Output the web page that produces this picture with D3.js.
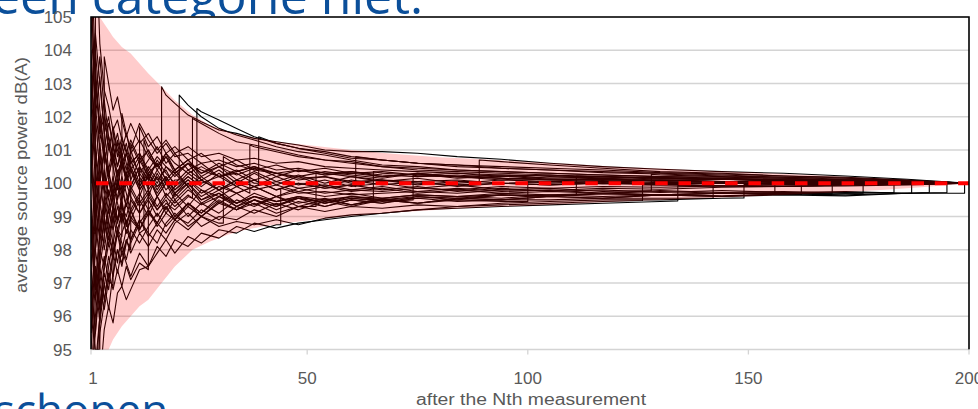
<!DOCTYPE html>
<html>
<head>
<meta charset="utf-8">
<script src="https://cdn.jsdelivr.net/npm/d3@7"></script>
<style>
  body { margin: 0; background: #fff; }
  svg { display: block; }
  text { font-family: "Liberation Sans", Arial, sans-serif; }
</style>
</head>
<body>
<div id="chart"></div>
<script>
var grid = [1,2,3,4,5,6,7,8,9,10,12,14,16,18,20,23,26,30,34,38,43,48,54,60,67,75,84,94,105,117,130,144,158,172,186,200];

// running averages (dB(A)), one row per random ordering; null = covered by the jump point
var runs = [
  [98.5,null,104.2,102.8,102.3,101.6,101.9,101.3,101.0,100.6,100.9,100.4,100.8,100.5,100.3,100.6,100.4,100.2,100.35,100.5,100.3,100.2,100.35,100.25,100.15,100.3,100.2,100.1,100.2,100.15,100.05,100.12,100.08,100.04,100.06,100],
  [103.5,101.0,99.2,100.3,99.5,98.8,99.6,100.2,99.7,99.1,99.6,100.3,99.9,102.65,102.4,102.05,101.85,101.6,101.5,101.35,101.25,101.15,101.0,100.95,100.95,100.9,100.8,100.72,100.6,100.5,100.42,100.35,100.3,100.22,100.12,100],
  [96.0,98.5,100.8,99.7,101.2,100.5,99.8,100.9,100.4,101.0,100.2,99.6,100.3,99.8,100.1,102.35,102.0,101.65,101.45,101.3,101.1,100.95,100.85,100.7,100.55,100.5,100.4,100.35,100.3,100.25,100.2,100.18,100.15,100.1,100.06,100],
  [94.0,96.5,98.0,97.5,98.6,99.3,98.9,99.6,100.3,99.9,100.5,99.8,100.2,99.6,99.9,100.2,102.15,101.9,101.65,101.4,101.2,101.05,100.9,100.75,100.7,100.6,100.55,100.45,100.4,100.35,100.3,100.25,100.18,100.15,100.08,100],
  [100.5,102.3,101.0,99.8,100.4,99.6,100.0,99.3,99.0,99.5,99.1,99.5,99.0,99.4,99.2,99.6,101.8,101.5,101.25,101.15,101.0,100.85,100.7,100.65,100.5,100.4,100.35,100.3,100.25,100.2,100.15,100.12,100.1,100.08,100.05,100],
  [92.0,94.5,96.0,97.3,96.8,97.9,98.6,98.2,97.7,98.3,98.9,98.5,98.2,98.8,99.1,98.7,99.0,98.8,100.55,100.4,100.3,100.15,100.2,100.05,100.1,100.0,99.95,100.0,100.05,99.98,100.0,100.02,99.98,100.0,100.0,100],
  [101.5,99.0,100.2,101.0,100.1,99.5,99.9,100.6,100.9,100.4,99.8,100.2,99.6,100.0,99.7,100.1,99.8,99.6,99.9,101.1,100.95,100.8,100.7,100.6,100.5,100.45,100.4,100.35,100.3,100.25,100.2,100.15,100.12,100.1,100.05,100],
  [97.0,95.5,97.8,99.0,98.3,99.2,100.1,99.7,100.3,100.8,100.3,100.7,101.1,100.6,100.9,100.4,100.6,100.2,100.3,100.0,101.2,101.05,100.95,100.8,100.7,100.6,100.55,100.5,100.45,100.4,100.32,100.28,100.22,100.18,100.1,100],
  [99.0,97.2,95.8,96.9,97.8,97.2,98.0,97.6,98.3,97.9,98.5,98.1,98.6,98.3,98.8,99.1,98.7,99.0,98.9,99.2,99.0,99.3,100.3,100.2,100.1,100.05,100.1,100.0,99.95,100.0,99.95,100.0,99.98,100.0,99.98,100],
  [105.5,103.0,101.5,102.0,101.1,100.6,101.3,100.8,100.2,100.7,100.0,100.5,100.1,100.4,99.9,100.3,100.0,100.2,99.9,100.1,99.8,100.0,99.85,99.95,100.7,100.6,100.5,100.45,100.4,100.32,100.28,100.22,100.18,100.12,100.08,100],
  [94.5,93.0,95.5,96.4,97.5,98.3,97.6,98.5,98.9,98.2,98.8,99.2,98.7,99.1,98.9,99.3,99.0,99.4,99.2,99.5,99.3,99.6,99.4,99.55,99.45,100.22,100.2,100.15,100.1,100.05,100.1,100.05,100.02,100.0,100.02,100],
  [102.0,104.0,102.2,101.0,101.8,101.2,100.5,101.0,101.5,100.9,101.3,100.8,100.5,100.9,100.6,100.3,100.5,100.2,100.4,100.1,100.3,100.1,100.2,100.0,100.1,99.95,100.05,100.65,100.55,100.45,100.35,100.3,100.22,100.16,100.08,100],
  [99.5,96.8,98.5,99.6,98.8,98.2,98.9,99.4,98.7,99.2,98.6,99.1,98.8,99.3,98.9,99.4,99.1,99.6,99.3,99.5,99.2,99.45,99.3,99.5,99.4,99.6,99.5,99.65,99.6,100.2,100.15,100.12,100.08,100.05,100.03,100],
  [93.5,95.0,94.0,95.6,96.3,95.8,96.7,96.9,96.5,96.8,97.4,97.5,97.9,98.3,97.9,98.4,98.2,98.6,98.5,98.8,98.65,98.8,98.9,99.0,99.1,99.2,99.3,99.35,99.4,99.45,99.95,99.92,99.95,99.96,99.98,100],
  [103.0,100.5,99.0,98.0,98.9,99.7,100.4,99.8,99.3,99.9,100.5,100.1,100.7,100.3,100.0,100.4,100.1,99.8,100.1,99.9,100.2,99.95,100.1,99.9,100.0,99.85,99.95,99.8,99.85,99.75,100.25,100.2,100.15,100.1,100.05,100],
  [95.5,97.5,96.3,97.4,98.2,97.7,98.5,98.0,98.6,98.3,98.9,98.4,98.8,98.5,98.9,98.6,99.0,98.7,98.85,98.75,98.9,98.75,98.95,99.05,99.1,99.2,99.25,99.3,99.35,99.4,99.45,99.92,99.9,99.95,99.97,100],
  [98.0,100.5,102.0,100.9,100.2,100.8,100.1,99.5,100.0,99.6,99.1,99.6,99.2,99.5,99.0,99.4,99.1,99.5,99.2,99.4,99.1,99.3,99.15,99.3,99.25,99.35,99.3,99.4,99.45,99.5,99.5,99.55,99.95,99.97,99.98,100],
  [107.0,103.5,101.5,102.5,101.4,100.7,101.2,100.6,100.1,100.5,99.9,100.3,99.8,100.2,99.7,100.0,99.6,99.9,99.7,99.9,99.6,99.75,99.6,99.7,99.55,99.65,99.6,99.7,99.65,99.7,99.65,99.7,100.05,100.02,100.0,100],
  [96.5,98.0,99.5,98.5,99.3,100.0,99.4,98.9,99.5,99.9,99.4,99.8,99.3,99.7,99.4,99.8,99.5,99.7,99.4,99.6,99.45,99.55,99.45,99.6,99.5,99.6,99.55,99.65,99.6,99.7,99.65,99.7,99.68,100.04,100.02,100],
  [104.0,101.0,100.0,101.0,100.3,99.7,100.2,100.7,100.2,99.8,100.3,99.9,100.4,100.0,100.3,99.9,100.1,99.8,100.0,99.8,99.95,99.75,99.9,99.75,99.85,99.7,99.8,99.7,99.75,99.7,99.75,99.7,99.72,99.7,100.02,100],
  [91.0,94.0,96.0,97.0,96.2,97.3,98.0,97.5,98.2,98.6,98.2,98.7,99.1,98.7,99.0,98.8,99.2,98.9,99.3,99.1,99.4,99.2,99.45,99.3,99.5,99.4,99.55,99.5,99.6,99.55,99.65,99.6,99.68,99.65,99.7,100],
  [100.0,102.5,103.8,102.2,101.0,101.7,101.0,100.4,100.9,100.4,100.8,100.2,100.6,100.1,99.8,100.2,99.9,100.3,99.9,100.1,99.8,100.0,99.85,99.95,99.8,99.9,99.75,99.85,99.75,99.8,99.72,99.78,99.72,99.75,99.7,100],
  [97.5,99.5,98.2,99.3,100.1,99.4,98.8,99.3,98.8,99.2,99.7,99.2,99.6,99.1,99.5,99.0,99.4,99.1,99.5,99.3,99.6,99.4,99.55,99.35,99.5,99.4,99.55,99.5,99.6,99.55,99.65,99.6,99.65,99.62,99.7,100],
  [99.0,97.0,98.5,null,103.0,102.2,102.6,101.9,101.4,101.8,101.2,101.5,101.0,101.3,100.9,101.1,100.8,100.9,100.7,100.75,100.6,100.65,100.5,100.45,100.4,100.35,100.3,100.25,100.22,100.2,100.15,100.12,100.1,100.08,100.05,100],
  [95.0,97.0,96.2,97.6,98.4,97.9,98.6,null,101.5,101.0,101.8,101.3,100.9,101.2,100.8,100.9,100.6,100.7,100.5,100.6,100.4,100.45,100.3,100.35,100.25,100.2,100.25,100.15,100.1,100.12,100.08,100.05,100.06,100.03,100.02,100],
  [106.5,102.0,100.3,99.0,99.8,99.2,98.6,99.1,98.5,98.9,null,101.1,101.4,100.9,101.1,100.7,100.9,100.5,100.7,100.4,100.55,100.35,100.45,100.3,100.35,100.25,100.3,100.2,100.25,100.15,100.18,100.12,100.1,100.06,100.04,100],
  [93.0,96.0,97.5,96.5,97.3,96.8,97.4,96.9,97.5,97.1,97.6,null,99.9,100.2,99.8,100.1,99.7,100.0,99.7,99.9,99.6,99.85,99.7,99.8,99.75,99.85,99.8,99.9,99.85,99.9,99.88,99.92,99.9,99.95,99.97,100],
  [101.0,98.0,97.0,97.8,97.1,97.9,97.3,98.0,97.6,97.2,97.9,97.5,98.1,97.8,98.3,98.1,98.5,98.35,98.7,98.55,98.75,99.7,99.75,99.65,99.7,99.75,99.7,99.8,99.78,99.85,99.82,99.88,99.9,99.92,99.95,100],
  [100.8,99.0,97.5,98.4,99.2,98.6,99.3,98.8,99.4,98.9,99.5,99.0,99.6,99.2,99.7,99.3,99.8,99.4,99.7,99.35,99.6,99.3,99.5,99.35,99.55,99.4,99.5,99.45,100.0,100.05,99.98,100.02,99.98,100.0,99.98,100],
  [102.5,104.5,103.0,101.6,100.4,101.1,100.5,101.2,100.6,100.1,100.7,100.2,99.7,100.1,99.6,100.0,99.5,99.8,99.4,99.7,99.45,99.6,99.4,99.55,100.3,100.25,100.2,100.15,100.12,100.1,100.08,100.05,100.04,100.02,100.02,100],
  [96.5,95.0,null,101.0,100.2,100.9,100.3,100.7,100.1,100.5,99.9,100.4,100.0,100.5,100.2,100.6,100.3,100.5,100.25,100.45,100.3,100.4,100.25,100.35,100.2,100.3,100.2,100.25,100.15,100.2,100.12,100.15,100.1,100.08,100.04,100],
  [94.0,95.5,97.0,96.2,97.1,null,100.8,101.4,100.9,101.3,100.7,101.0,100.5,100.8,100.4,100.7,100.3,100.6,100.35,100.5,100.2,100.4,100.25,100.3,100.2,100.28,100.15,100.22,100.12,100.15,100.1,100.12,100.06,100.05,100.03,100],
  [102.5,100.0,98.5,99.4,98.6,97.9,98.5,97.8,98.3,null,100.6,101.0,100.5,100.9,100.4,100.7,100.2,100.5,100.1,100.35,100.05,100.25,100.0,100.2,100.05,100.15,100.0,100.1,100.05,100.08,100.02,100.05,100.02,100.03,100.0,100],
  [97.0,99.5,101.2,100.0,99.1,99.7,98.9,99.5,98.7,99.2,98.5,100.9,100.4,100.8,100.3,100.6,100.1,100.4,100.0,100.3,99.95,100.2,99.9,100.1,99.95,100.05,99.9,100.0,99.95,100.02,99.97,100.0,99.98,100.0,100.0,100],
  [101.0,103.0,101.8,100.6,101.4,100.8,100.2,100.7,100.0,100.4,99.8,100.2,99.6,100.0,99.5,99.9,99.4,99.7,99.3,99.6,99.35,99.55,99.3,99.5,99.4,99.55,99.45,99.5,99.5,99.55,99.55,100.0,99.98,100.0,99.98,100],
  [99.0,96.5,97.8,98.9,98.1,99.0,98.4,99.1,98.5,99.0,98.6,99.2,98.8,99.3,98.9,99.4,99.0,99.45,99.2,99.5,99.3,99.55,99.4,99.6,99.5,99.55,99.6,99.55,99.65,99.6,99.65,99.62,99.68,100.02,100.0,100],
  [105.0,102.0,103.2,101.5,102.0,101.0,101.5,100.8,101.2,100.6,100.9,100.3,100.6,100.1,100.4,99.9,100.2,99.8,100.1,99.9,100.05,99.85,99.95,99.8,99.9,99.75,99.85,99.75,99.8,99.7,99.78,99.72,99.75,99.7,100.0,100],
  [95.5,98.0,99.4,100.4,99.6,100.2,99.5,100.0,99.3,99.8,99.3,99.7,99.2,99.6,99.3,99.65,99.35,99.6,99.4,99.6,99.45,99.6,99.5,99.6,99.55,99.65,99.6,99.65,99.62,99.68,99.65,99.7,99.68,99.72,99.7,100]
];

// the loud measurement: [position N, average before, average after]
var jumps = [
  [2,98.5,108],[17,100.0,102.9],[21,100.1,102.65],[25,100.0,102.25],[24,99.55,101.95],
  [31,98.8,100.8],[37,99.7,101.15],[39,100.0,101.4],[52,99.3,100.35],[61,99.9,100.8],
  [74,99.5,100.25],[89,100.05,100.7],[111,99.65,100.22],[126,99.48,99.96],[128,99.78,100.27],
  [134,99.47,99.93],[149,99.56,99.96],[156,99.68,100.06],[169,99.7,100.05],[183,99.72,100.03],
  [187,99.7,100.0],[195,99.72,99.99],[199,99.7,99.98],[4,98.2,103.8],[8,98.4,102.1],
  [12,98.6,101.7],[14,97.4,100.3],[44,98.75,99.85],[100,99.45,100.05],[65,99.5,100.35],
  [3,95.0,101.5],[6,96.9,101.6],[10,98.0,101.2],[13,98.6,101.3],
  [142,99.55,100.0],[162,99.66,100.05],[176,99.7,100.02],[191,99.72,100.0]
];

// shaded spread band
var bandN     = [1,2,3,4,5,6,8,10,12,14,17,20,24,28,32,36,40,45,50,60,70,80,90,100,110,120,130,140,150,160,170,180,190,200];
var bandUpper = [108,106.2,105.0,104.8,104.6,104.4,104.1,103.9,103.6,103.3,102.9,102.5,102.05,101.75,101.55,101.42,101.32,101.22,101.15,101.0,100.88,100.78,100.72,100.65,100.58,100.5,100.44,100.38,100.33,100.27,100.21,100.15,100.08,100.0];
var bandLower = [92,93.2,94.0,94.6,95.0,95.3,95.7,96.0,96.3,96.5,97.0,97.5,98.0,98.25,98.45,98.6,98.7,98.8,98.88,99.02,99.12,99.2,99.28,99.32,99.38,99.44,99.5,99.55,99.6,99.66,99.72,99.8,99.89,100.0];

var targetLevel = 100;
var xTicks = [1,50,100,150,200];
var yTicks = [95,96,97,98,99,100,101,102,103,104,105];

var W = 978, H = 409;
var margin = {top: 17, right: 9, bottom: 59.5, left: 91};

var svg = d3.select('#chart').append('svg')
    .attr('width', W)
    .attr('height', H);

var x = d3.scaleLinear().domain([1,200]).range([margin.left, W - margin.right]);
var y = d3.scaleLinear().domain([95,105]).range([H - margin.bottom, margin.top]);

svg.append('defs').append('clipPath').attr('id','plotClip')
    .append('rect')
    .attr('x', margin.left).attr('y', margin.top)
    .attr('width', x(200) - x(1)).attr('height', y(95) - y(105));

// slide text around the chart
svg.append('text')
    .attr('x', -8).attr('y', 14)
    .attr('fill', '#0b4f9a')
    .style('font-family', '"Open Sans", "Noto Sans", sans-serif')
    .style('font-size', '50px')
    .text('een categorie niet.');
svg.append('text')
    .attr('x', -6).attr('y', 426)
    .attr('fill', '#0b4f9a')
    .style('font-family', '"Open Sans", "Noto Sans", sans-serif')
    .style('font-size', '44px')
    .text('schopen');

// chart area hides the descenders of the slide text
svg.append('rect')
    .attr('x', margin.left).attr('y', margin.top)
    .attr('width', x(200) - x(1)).attr('height', y(95) - y(105))
    .attr('fill', '#fff');

// gridlines
svg.append('g').selectAll('line')
    .data(yTicks)
    .enter().append('line')
    .attr('x1', x(1)).attr('x2', x(200))
    .attr('y1', function(d) { return y(d); })
    .attr('y2', function(d) { return y(d); })
    .attr('stroke', '#d4d4d4')
    .attr('stroke-width', 1.3);

var plot = svg.append('g').attr('clip-path', 'url(#plotClip)');

var line = d3.line()
    .x(function(d) { return x(d[0]); })
    .y(function(d) { return y(d[1]); });

runs.forEach(function(vals, i) {
    var j = jumps[i];
    var pts = [];
    grid.forEach(function(n, k) {
        if (n < j[0] && vals[k] !== null) pts.push([n, vals[k]]);
    });
    pts.push([j[0], j[1]]);
    pts.push([j[0], j[2]]);
    grid.forEach(function(n, k) {
        if (n > j[0] && vals[k] !== null) pts.push([n, vals[k]]);
    });
    plot.append('path')
        .datum(pts)
        .attr('fill', 'none')
        .attr('stroke', '#000')
        .attr('stroke-width', 1.1)
        .attr('stroke-linejoin', 'round')
        .attr('d', line);
});

var band = d3.area()
    .x(function(d, i) { return x(bandN[i]); })
    .y0(function(d, i) { return y(bandLower[i]); })
    .y1(function(d, i) { return y(bandUpper[i]); });

plot.append('path')
    .datum(bandN)
    .attr('fill', 'rgba(255,0,0,0.2)')
    .attr('d', band);

plot.append('line')
    .attr('x1', x(1)).attr('x2', x(200))
    .attr('y1', y(targetLevel)).attr('y2', y(targetLevel))
    .attr('stroke', '#ff0000')
    .attr('stroke-width', 4)
    .attr('stroke-dasharray', '12.5,10.8')
    .attr('stroke-dashoffset', 18.3);

// plot frame
svg.append('path')
    .attr('d', 'M' + x(1) + ',' + y(95) + 'V' + y(105) + 'H' + x(200) + 'V' + y(95))
    .attr('fill', 'none')
    .attr('stroke', '#000')
    .attr('stroke-width', 1.6);

// x axis ticks and labels
var xg = svg.append('g');
xg.selectAll('line').data(xTicks).enter().append('line')
    .attr('x1', function(d) { return x(d); }).attr('x2', function(d) { return x(d); })
    .attr('y1', y(95)).attr('y2', y(95) + 5)
    .attr('stroke', '#d4d4d4').attr('stroke-width', 1.3);
xg.selectAll('text').data(xTicks).enter().append('text')
    .attr('x', function(d) { return d === 1 ? x(d) + 2 : x(d); })
    .attr('y', 383.5)
    .attr('text-anchor', 'middle')
    .attr('fill', '#595959')
    .style('font-size', '17px')
    .text(function(d) { return d; });

// y axis labels
svg.append('g').selectAll('text').data(yTicks).enter().append('text')
    .attr('x', 72)
    .attr('y', function(d) { return y(d) + 6; })
    .attr('text-anchor', 'end')
    .attr('fill', '#595959')
    .style('font-size', '17px')
    .text(function(d) { return d; });

// axis titles
svg.append('text')
    .attr('x', 531).attr('y', 405)
    .attr('text-anchor', 'middle')
    .attr('fill', '#595959')
    .style('font-family', '"Liberation Sans Narrow", "Liberation Sans", sans-serif')
    .style('font-size', '16px')
    .attr('textLength', 230)
    .attr('lengthAdjust', 'spacingAndGlyphs')
    .text('after the Nth  measurement');

svg.append('text')
    .attr('transform', 'translate(27,175) rotate(-90)')
    .attr('text-anchor', 'middle')
    .attr('fill', '#595959')
    .style('font-family', '"Liberation Sans Narrow", "Liberation Sans", sans-serif')
    .style('font-size', '16px')
    .attr('textLength', 236)
    .attr('lengthAdjust', 'spacingAndGlyphs')
    .text('average source  power dB(A)');
</script>
</body>
</html>
